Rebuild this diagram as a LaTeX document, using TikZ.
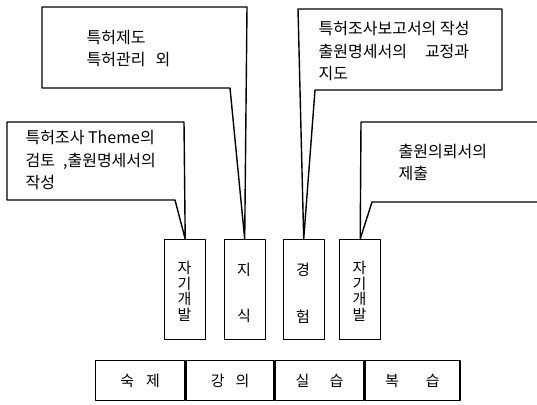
\documentclass[tikz,border=0pt]{standalone}
\usepackage{fontspec}
\setmainfont{Noto Sans CJK KR}
\begin{document}
\begin{tikzpicture}[x=1pt,y=-1pt,
  line width=1.4pt, line join=round,
  vbox/.style={draw, minimum width=41pt, minimum height=100pt, inner sep=0pt, anchor=north west},
  cell/.style={draw, minimum height=40pt, inner sep=0pt, anchor=north west, font=\fontsize{15}{16}\selectfont},
  vtext/.style={font=\fontsize{15}{15.5}\selectfont, align=center, inner sep=0pt},
  ctext/.style={font=\fontsize{16}{22.5}\selectfont, align=left, inner sep=0pt, anchor=west}]
\useasboundingbox (0,0) rectangle (537,404);

% vertical boxes
\node[vbox] (v1) at (164,239) {};
\node[vbox] (v2) at (223.5,239) {};
\node[vbox] (v3) at (282.5,239) {};
\node[vbox] (v4) at (339,239) {};
\node[vtext] (t1) at (184.5,291.5) {자\\기\\개\\발};
\node[vtext] (t2) at (244,270) {지};
\node[vtext] (t2b) at (244,316) {식};
\node[vtext] (t3) at (303,270) {경};
\node[vtext] (t3b) at (303,317) {험};
\node[vtext] (t4) at (359.5,291.5) {자\\기\\개\\발};

% callouts
\draw (42,7) -- (247,7) -- (v2.north) -- (230,88) -- (42,88) -- cycle;
\draw (7,122) -- (184,122) -- (v1.north) -- (175,200) -- (7,200) -- cycle;
\draw (298,9) -- (502,9) -- (502,90) -- (315,90) -- (v3.north) -- cycle;
\draw (540,122) -- (361,122) -- (v4.north) -- (372,202) -- (540,202);

\node[ctext] (c1) at (86,48.5) {특허제도\\특허관리\hspace{10pt}외};
\node[ctext] (c2) at (25,160.5) {특허조사 Theme의\\검토\hspace{8pt},출원명세서의\\작성};
\node[ctext] (c3) at (318,51.5) {특허조사보고서의 작성\\출원명세서의\hspace{18pt}교정과\\지도};
\node[ctext] (c4) at (398,162.5) {출원의뢰서의\\제출};

% table
\node[cell, minimum width=89pt] (s1) at (95,360) {숙\hspace{12pt}제};
\node[cell, minimum width=88pt] (s2) at (s1.north east) {강\hspace{11pt}의};
\node[cell, minimum width=88pt] (s3) at (s2.north east) {실\hspace{20pt}습};
\node[cell, minimum width=95pt] (s4) at (s3.north east) {복\hspace{27pt}습};
\end{tikzpicture}
\end{document}
